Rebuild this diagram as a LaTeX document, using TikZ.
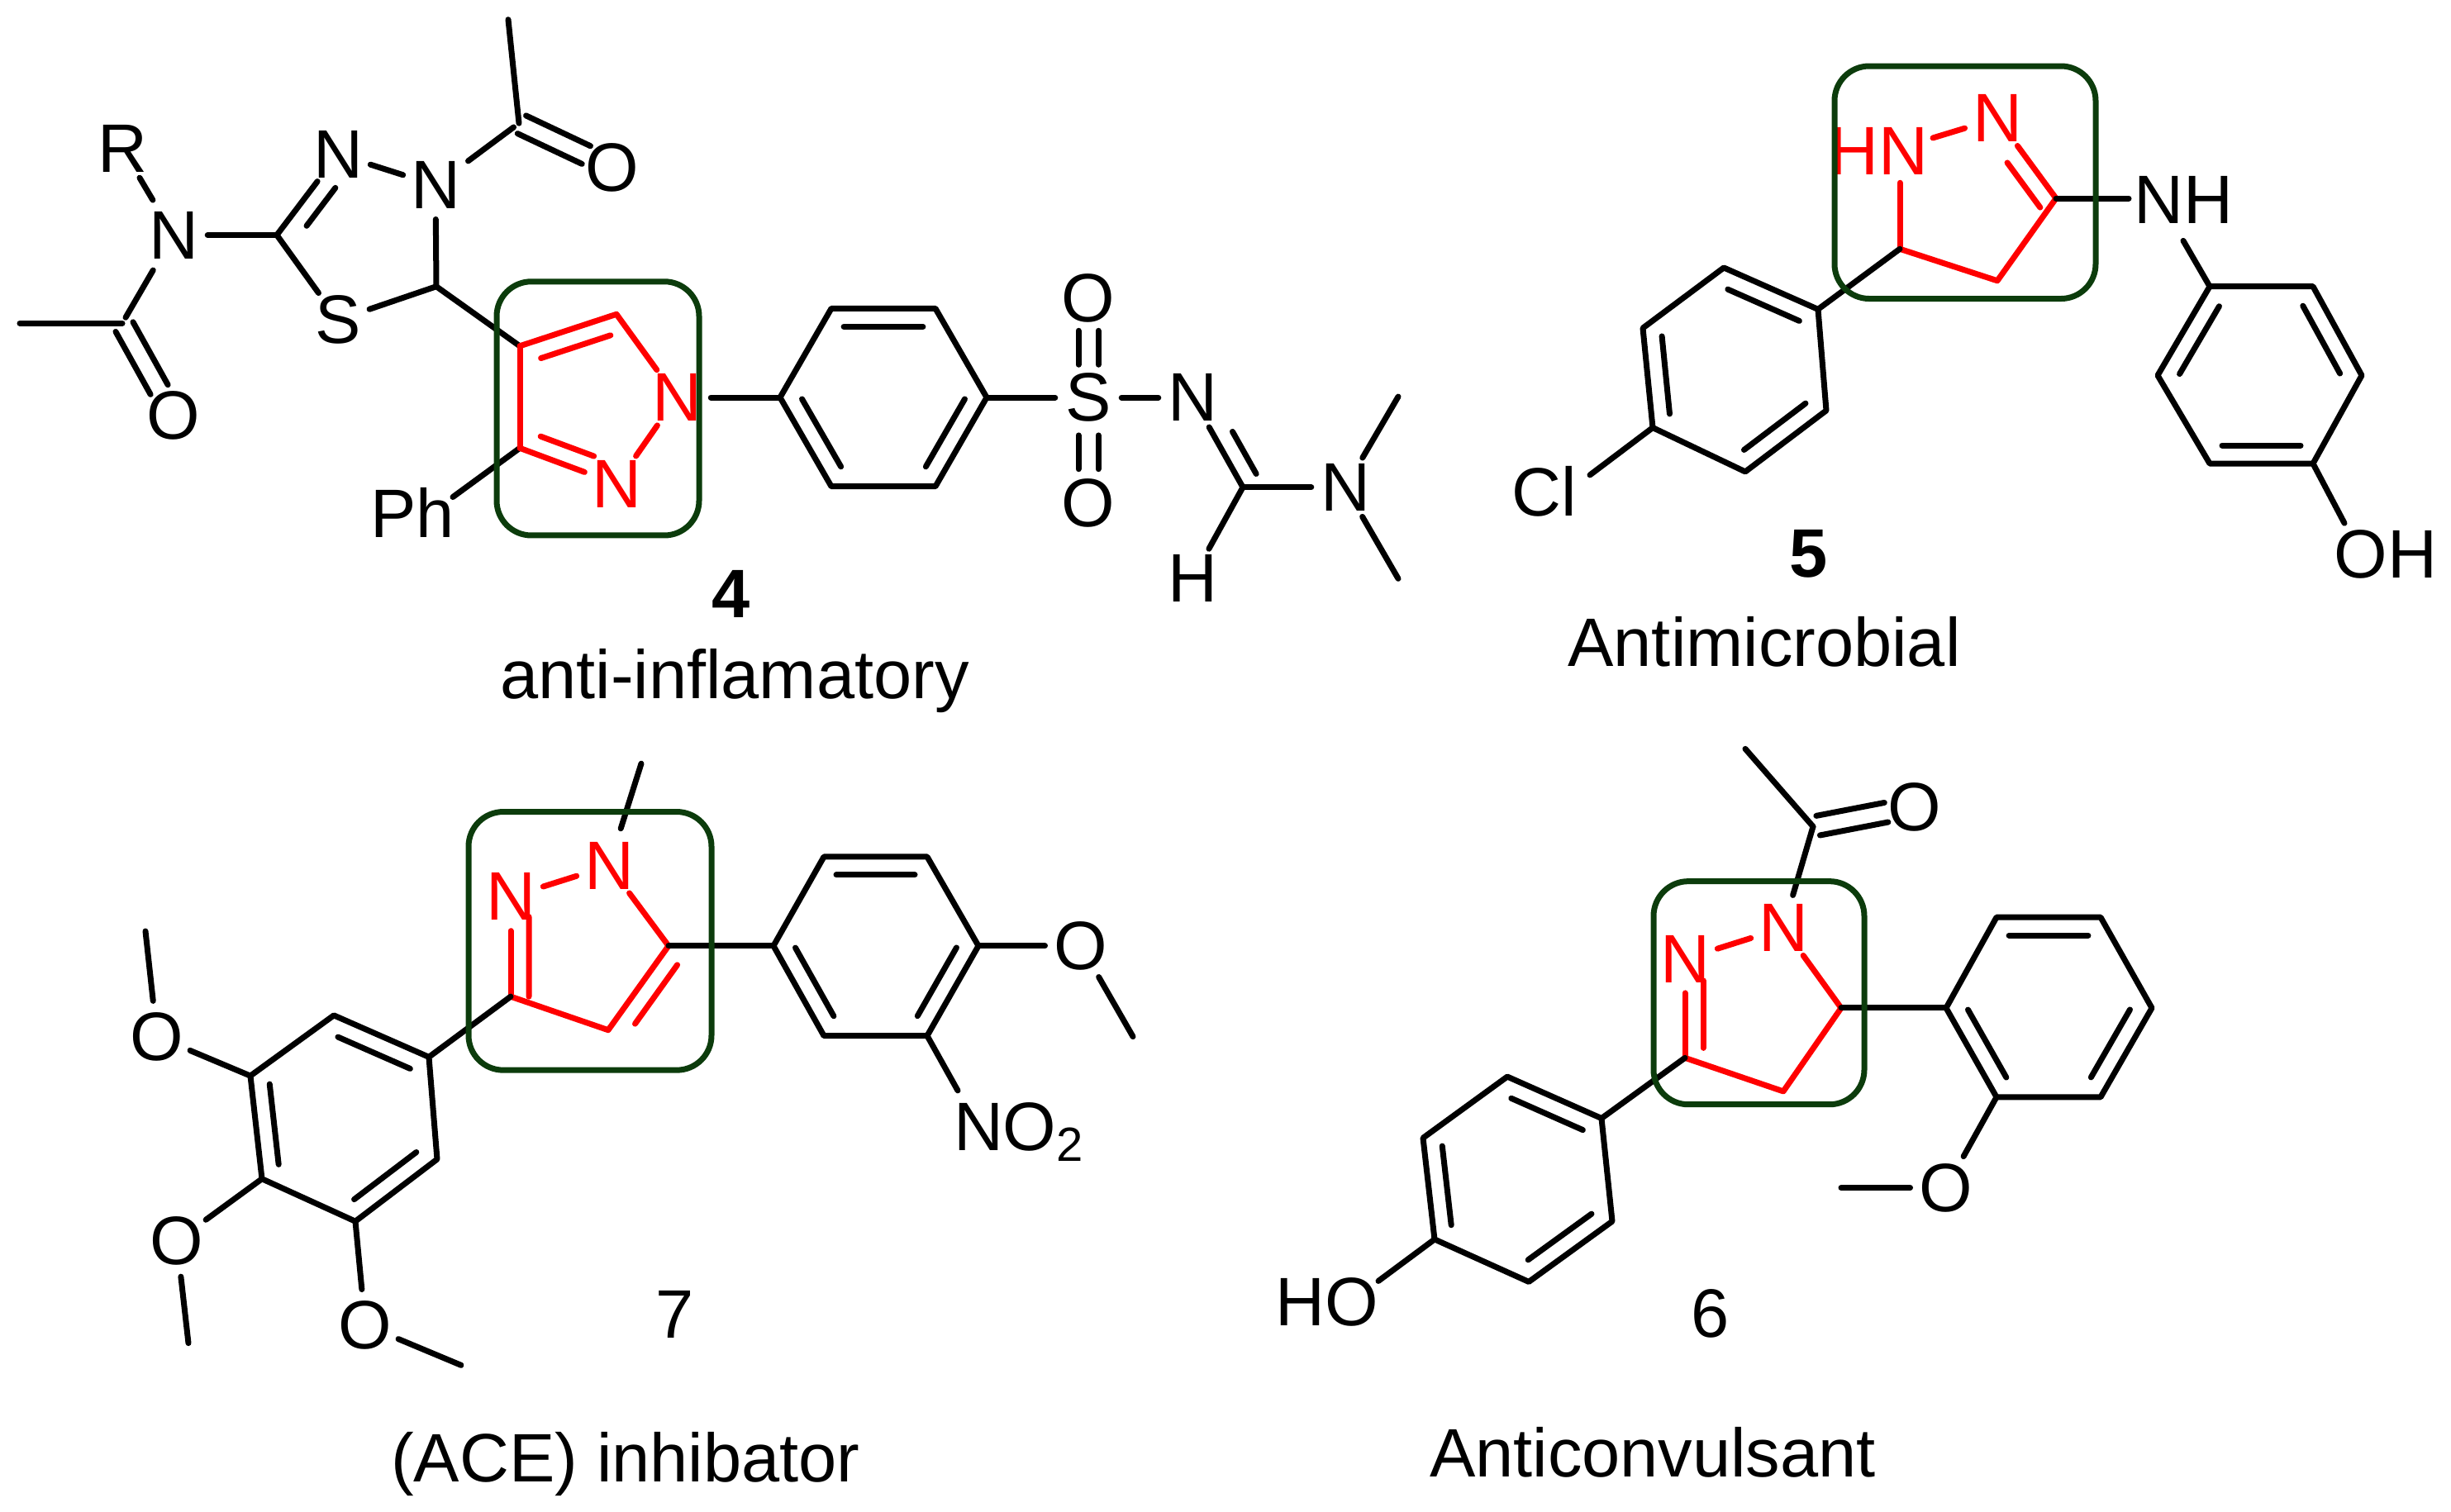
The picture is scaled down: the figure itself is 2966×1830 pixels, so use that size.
\documentclass[tikz,border=0pt]{standalone}
\usepackage{fontspec}
\setmainfont{Liberation Sans}
\usetikzlibrary{calc}
\definecolor{boxgreen}{RGB}{12,60,12}
\tikzset{
  bond/.style={line width=.07cm,line cap=round,line join=round,black},
  redbond/.style={bond,red},
  atom/.style={circle,inner sep=0pt,outer sep=0pt,minimum size=.8cm,font=\fontsize{23.6}{28}\selectfont},
  redatom/.style={atom,text=red},
  lbl/.style={inner sep=0pt,outer sep=0pt,font=\fontsize{23.6}{28}\selectfont},
  frame/.style={draw=boxgreen,line width=.07cm,rounded corners=.42cm},
  gapped/.style={shorten <=.08cm,shorten >=.08cm}
}
% inner line of a double bond, on the right of a->b as seen on the page
\newcommand{\dbl}[5][bond]{\draw[#1] ($(#2)!#4!(#3)!.22cm!-90:(#3)$) -- ($(#2)!#5!(#3)!.22cm!-90:(#3)$);}
% two lines, either side of the axis a-b
\newcommand{\twin}[4]{%
  \draw[bond] ($(#1)!#3!(#2)!.12cm!90:(#2)$) -- ($(#1)!#4!(#2)!.12cm!90:(#2)$);
  \draw[bond] ($(#1)!#3!(#2)!.12cm!-90:(#2)$) -- ($(#1)!#4!(#2)!.12cm!-90:(#2)$);}
\begin{document}
\begin{tikzpicture}[x=.01cm,y=-.01cm]
\useasboundingbox (0,0) rectangle (2966,1830);

\begin{scope}[y=-.009875cm]
% ===== compound 4 =====
\node[lbl] (aR) at (148,182) {R};
\node[atom] (aNr) at (210,288) {N};
\node[atom] (aO1) at (210,509) {O};
\coordinate (aC1) at (148,396);
\coordinate (aMe1) at (24,396);
\coordinate (aC5) at (335,288);
\node[atom] (aN3) at (409,189) {N};
\node[atom] (aN4) at (527,227) {N};
\node[atom] (aS) at (409,392) {S};
\coordinate (aC2) at (528,351);
\coordinate (aC6) at (628,151);
\coordinate (aMe2) at (615,24);
\node[atom] (aO2) at (741,205) {O};
\coordinate (aP4) at (629,424);
\coordinate (aP5) at (746,385);
\coordinate (aP3) at (629,549);
\node[redatom] (aN1) at (819,487) {N};
\node[redatom] (aN2) at (746,593) {N};
\node[lbl] (aPh) at (499,628) {Ph};
\coordinate (aPhb) at (548,609);
\coordinate (ap1) at (944,487);
\coordinate (ap2) at (1006,378);
\coordinate (ap3) at (1132,378);
\coordinate (ap4) at (1194,487);
\coordinate (ap5) at (1132,596);
\coordinate (ap6) at (1006,596);
\node[atom] (aSu) at (1317,487) {S};
\node[atom] (aOa) at (1317,365) {O};
\node[atom] (aOb) at (1317,616) {O};
\node[atom] (aNs) at (1443,487) {N};
\coordinate (aCh) at (1504,597);
\node[atom] (aH) at (1443,709) {H};
\node[atom] (aNm) at (1628,597) {N};
\coordinate (aMe3) at (1692,486);
\coordinate (aMe4) at (1692,709);

\draw[bond,gapped] (aR) -- (aNr);
\draw[bond,gapped] (aNr) -- (aC1);
\draw[bond] (aC1) -- (aMe1);
\twin{aC1}{aO1}{.04}{.72}
\draw[bond] (aNr) -- (aC5);
\draw[bond] (aC5) -- (aN3);
\dbl{aC5}{aN3}{.25}{.72}
\draw[bond] (aN3) -- (aN4);
\draw[bond] (aN4) -- (aC2);
\draw[bond] (aC2) -- (aS);
\draw[bond] (aS) -- (aC5);
\draw[bond,gapped] (aN4) -- (aC6);
\draw[bond] (aC6) -- (aMe2);
\twin{aC6}{aO2}{.03}{.72}
\draw[bond] (aC2) -- (aP4);
\draw[bond] (aP3) -- (aPhb);
\draw[redbond] (aP4) -- (aP5);
\dbl[redbond]{aP4}{aP5}{.16}{.88}
\draw[redbond] (aP5) -- (aN1);
\draw[redbond] (aN1) -- (aN2);
\draw[redbond] (aN2) -- (aP3);
\dbl[redbond]{aN2}{aP3}{.3}{.85}
\draw[redbond] (aP3) -- (aP4);
\draw[bond] (aN1) -- (ap1);
\draw[bond] (ap1) -- (ap2) -- (ap3) -- (ap4) -- (ap5) -- (ap6) -- cycle;
\dbl{ap2}{ap3}{.12}{.88}
\dbl{ap4}{ap5}{.12}{.88}
\dbl{ap6}{ap1}{.12}{.88}
\draw[bond] (ap4) -- (aSu);
\draw[bond] (aSu) -- (aNs);
\twin{aSu}{aOa}{.33}{.67}
\twin{aSu}{aOb}{.36}{.68}
\draw[bond] (aNs) -- (aCh);
\dbl{aCh}{aNs}{.05}{.52}
\draw[bond] (aCh) -- (aH);
\draw[bond] (aCh) -- (aNm);
\draw[bond] (aNm) -- (aMe3);
\draw[bond] (aNm) -- (aMe4);
\draw[frame] (601,345) rectangle (846,656);

% ===== compound 5 =====
\node[lbl,text=red] (bHN) at (2273,185) {HN};
\coordinate (bHNa) at (2299,224);
\coordinate (bHNb) at (2339,169);
\node[redatom] (bN) at (2417,145) {N};
\coordinate (bC3) at (2488,243);
\coordinate (bC4) at (2417,344);
\coordinate (bC5) at (2299,305);
\node[lbl] (bNH) at (2642,245) {NH};
\coordinate (bNHa) at (2576,243);
\coordinate (bNHb) at (2642,295);
\coordinate (bp1) at (2200,379);
\coordinate (bp2) at (2086,328);
\coordinate (bp3) at (1988,402);
\coordinate (bp4) at (2000,524);
\coordinate (bp5) at (2112,578);
\coordinate (bp6) at (2210,503);
\node[lbl] (bCl) at (1869,602) {Cl};
\coordinate (bClb) at (1924,582);
\coordinate (bq1) at (2674,351);
\coordinate (bq2) at (2799,351);
\coordinate (bq3) at (2858,460);
\coordinate (bq4) at (2799,568);
\coordinate (bq5) at (2674,568);
\coordinate (bq6) at (2611,460);
\node[lbl] (bOH) at (2887,679) {OH};
\coordinate (bOHb) at (2837,641);

\draw[redbond] (bHNa) -- (bC5);
\draw[redbond] (bHNb) -- (bN);
\draw[redbond] (bN) -- (bC3);
\dbl[redbond]{bN}{bC3}{.42}{.98}
\draw[redbond] (bC3) -- (bC4) -- (bC5);
\draw[bond] (bC3) -- (bNHa);
\draw[bond] (bC5) -- (bp1);
\draw[bond] (bp1) -- (bp2) -- (bp3) -- (bp4) -- (bp5) -- (bp6) -- cycle;
\dbl{bp2}{bp1}{.12}{.88}
\draw[bond] (bp4) -- (bClb);
\dbl{bp4}{bp3}{.12}{.9}
\dbl{bp6}{bp5}{.12}{.88}
\draw[bond] (bNHb) -- (bq1);
\draw[bond] (bq1) -- (bq2) -- (bq3) -- (bq4) -- (bq5) -- (bq6) -- cycle;
\dbl{bq6}{bq1}{.12}{.88}
\dbl{bq2}{bq3}{.12}{.88}
\dbl{bq4}{bq5}{.12}{.88}
\draw[bond] (bq4) -- (bOHb);
\draw[frame] (2220,81) rectangle (2536,366);
\end{scope}

\begin{scope}[y=-.009886cm,yshift=-.1003cm]
% ===== compound 7 =====
\coordinate (cMe) at (776,924);
\node[redatom] (cN1) at (737,1049) {N};
\node[redatom] (cN2) at (618,1087) {N};
\coordinate (cC3) at (618,1209);
\coordinate (cC4) at (736,1250);
\coordinate (cC5) at (809,1147);
\coordinate (cp1) at (936,1147);
\coordinate (cp2) at (997,1038);
\coordinate (cp3) at (1122,1038);
\coordinate (cp4) at (1184,1147);
\coordinate (cp5) at (1122,1257);
\coordinate (cp6) at (997,1257);
\node[atom] (cO) at (1308,1147) {O};
\coordinate (cMe4) at (1371,1258);
\node[lbl,anchor=base west] (cNO) at (1154,1397) {NO\textsubscript{2}};
\coordinate (cNOb) at (1159,1324);
\coordinate (cq1) at (519,1283);
\coordinate (cq2) at (404,1232);
\coordinate (cq3) at (303,1306);
\coordinate (cq4) at (317,1432);
\coordinate (cq5) at (430,1484);
\coordinate (cq6) at (529,1408);
\node[atom] (cOa) at (190,1258) {O};
\coordinate (cMea) at (176,1129);
\node[atom] (cOb) at (214,1508) {O};
\coordinate (cMeb) at (228,1633);
\node[atom] (cOc) at (442,1611) {O};
\coordinate (cMec) at (558,1660);

\draw[bond,shorten >=.06cm] (cMe) -- (cN1);
\draw[redbond] (cN1) -- (cN2);
\draw[redbond] (cN2) -- (cC3);
\dbl[redbond]{cC3}{cN2}{.0}{.8}
\draw[redbond] (cC3) -- (cC4) -- (cC5);
\dbl[redbond]{cC4}{cC5}{.2}{.9}
\draw[redbond] (cC5) -- (cN1);
\draw[bond] (cC3) -- (cq1);
\draw[bond] (cC5) -- (cp1);
\draw[bond] (cp1) -- (cp2) -- (cp3) -- (cp4) -- (cp5) -- (cp6) -- cycle;
\dbl{cp2}{cp3}{.12}{.88}
\dbl{cp4}{cp5}{.12}{.88}
\dbl{cp6}{cp1}{.12}{.88}
\draw[bond] (cp4) -- (cO);
\draw[bond] (cO) -- (cMe4);
\draw[bond] (cp5) -- (cNOb);
\draw[bond] (cq1) -- (cq2) -- (cq3) -- (cq4) -- (cq5) -- (cq6) -- cycle;
\dbl{cq2}{cq1}{.12}{.88}
\dbl{cq4}{cq3}{.12}{.9}
\dbl{cq6}{cq5}{.12}{.88}
\draw[bond] (cq3) -- (cOa);
\draw[bond] (cOa) -- (cMea);
\draw[bond] (cq4) -- (cOb);
\draw[bond] (cOb) -- (cMeb);
\draw[bond] (cq5) -- (cOc);
\draw[bond] (cOc) -- (cMec);
\draw[frame] (567,983) rectangle (861,1299);

% ===== compound 6 =====
\coordinate (dMe) at (2112,906);
\coordinate (dC) at (2194,1001);
\node[atom] (dO) at (2317,977) {O};
\node[redatom] (dN1) at (2158,1125) {N};
\node[redatom] (dN2) at (2039,1163) {N};
\coordinate (dC3) at (2039,1284);
\coordinate (dC4) at (2158,1325);
\coordinate (dC5) at (2228,1223);
\coordinate (dp1) at (2355,1223);
\coordinate (dp2) at (2416,1112);
\coordinate (dp3) at (2542,1112);
\coordinate (dp4) at (2604,1223);
\coordinate (dp5) at (2542,1332);
\coordinate (dp6) at (2416,1332);
\node[atom] (dOm) at (2355,1443) {O};
\coordinate (dMe2) at (2228,1443);
\coordinate (dq1) at (1938,1358);
\coordinate (dq2) at (1824,1307);
\coordinate (dq3) at (1722,1382);
\coordinate (dq4) at (1736,1506);
\coordinate (dq5) at (1850,1558);
\coordinate (dq6) at (1951,1484);
\node[lbl] (dHO) at (1606,1583) {HO};
\coordinate (dHOb) at (1668,1557);

\draw[bond] (dMe) -- (dC);
\twin{dC}{dO}{.05}{.72}
\draw[bond] (dC) -- (dN1);
\draw[redbond] (dN1) -- (dN2);
\draw[redbond] (dN2) -- (dC3);
\dbl[redbond]{dC3}{dN2}{.1}{.78}
\draw[redbond] (dC3) -- (dC4) -- (dC5) -- (dN1);
\draw[bond] (dC3) -- (dq1);
\draw[bond] (dC5) -- (dp1);
\draw[bond] (dp1) -- (dp2) -- (dp3) -- (dp4) -- (dp5) -- (dp6) -- cycle;
\dbl{dp2}{dp3}{.12}{.88}
\dbl{dp4}{dp5}{.12}{.88}
\dbl{dp6}{dp1}{.12}{.88}
\draw[bond] (dp6) -- (dOm);
\draw[bond] (dOm) -- (dMe2);
\draw[bond] (dq1) -- (dq2) -- (dq3) -- (dq4) -- (dq5) -- (dq6) -- cycle;
\dbl{dq2}{dq1}{.12}{.88}
\dbl{dq4}{dq3}{.12}{.9}
\dbl{dq6}{dq5}{.12}{.88}
\draw[bond] (dq4) -- (dHOb);
\draw[frame] (2001,1068) rectangle (2256,1341);
\end{scope}

% ===== numbers and captions =====
\node[lbl,font=\fontsize{23.6}{28}\selectfont\bfseries] (aNum) at (885,719) {4};
\node[lbl] (aCap) at (889,824) {anti-inflamatory};
\node[lbl,font=\fontsize{23.6}{28}\selectfont\bfseries] (bNum) at (2189,670) {5};
\node[lbl] (bCap) at (2135,777) {Antimicrobial};
\node[lbl] (cNum) at (817,1591) {7};
\node[lbl] (cCap) at (757,1772) {(ACE) inhibator};
\node[lbl] (dNum) at (2070,1590) {6};
\node[lbl] (dCap) at (2000,1758) {Anticonvulsant};
\end{tikzpicture}
\end{document}
